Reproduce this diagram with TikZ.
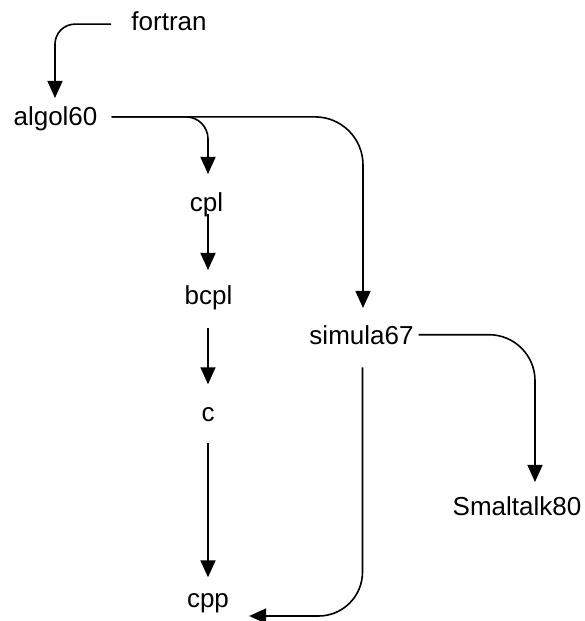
\documentclass[tikz,border=0pt]{standalone}
\usepackage{fontspec}
\setmainfont{Liberation Sans}
\usetikzlibrary{arrows.meta}
\tikzset{
  lbl/.style={inner sep=0pt, anchor=base, font=\fontsize{26}{30}\selectfont},
  arr/.style={draw=black, line width=1.6pt, -{Triangle[width=15pt,length=17pt]}}
}
\begin{document}
\begin{tikzpicture}[x=1pt,y=-1pt]
\useasboundingbox (0,0) rectangle (584,621);
\node[lbl] (fortran) at (169,30) {fortran};
\node[lbl] (algol) at (55.5,125) {algol60};
\node[lbl] (cpl) at (206.5,211) {cpl};
\node[lbl] (bcpl) at (208.5,304) {bcpl};
\node[lbl] (c) at (208,421) {c};
\node[lbl] (cpp) at (208,607) {cpp};
\node[lbl] (simula) at (361.5,344) {simula67};
\node[lbl] (smalltalk) at (517,515) {Smaltalk80};

\draw[arr, rounded corners=20pt] ([xshift=-20pt,yshift=-3.4pt]fortran.west) -| ([xshift=-0.5pt,yshift=8pt]algol.north);
\draw[arr, rounded corners=22pt] ([xshift=14pt,yshift=1.4pt]algol.east) -| ([xshift=1.5pt,yshift=18pt]cpl.north);
\draw[arr, rounded corners=48pt] ([xshift=14pt,yshift=1.4pt]algol.east) -| ([xshift=1.5pt,yshift=17pt]simula.north);
\draw[arr] ([xshift=1.5pt,yshift=2.5pt]cpl.south) -- ([xshift=-0.5pt,yshift=15pt]bcpl.north);
\draw[arr] ([xshift=-0.5pt,yshift=-18.5pt]bcpl.south) -- ([yshift=22.5pt]c.north);
\draw[arr] ([yshift=-22pt]c.south) -- ([yshift=15.5pt]cpp.north);
\draw[arr, rounded corners=44pt] ([xshift=1pt,yshift=-23pt]simula.south) |- ([xshift=20pt,yshift=-9pt]cpp.base east);
\draw[arr, rounded corners=46pt] ([xshift=5pt]simula.east) -| ([xshift=18pt,yshift=14pt]smalltalk.north);
\end{tikzpicture}
\end{document}
